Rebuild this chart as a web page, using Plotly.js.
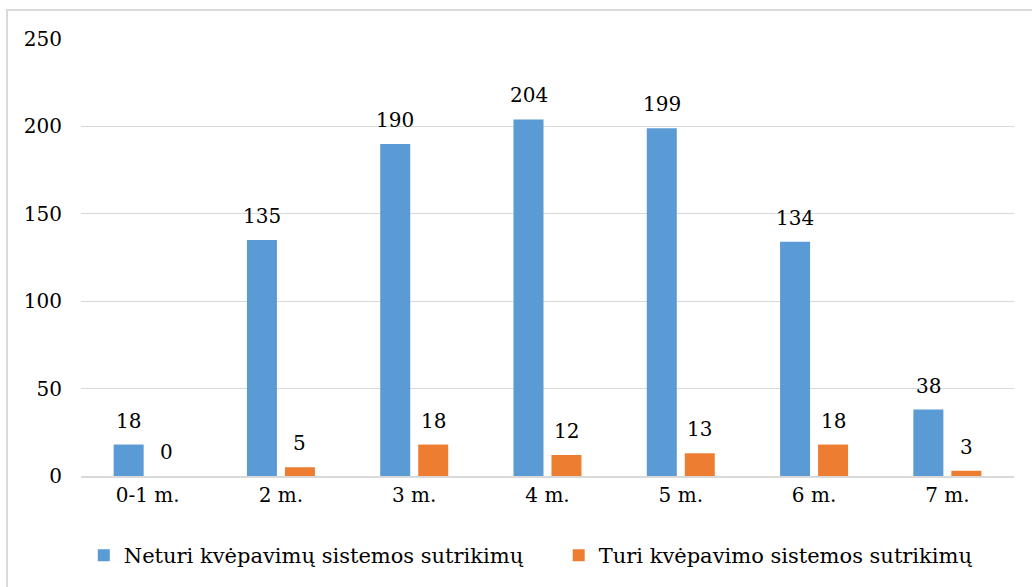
<!DOCTYPE html>
<html>
<head>
<meta charset="utf-8">
<script src="https://cdn.plot.ly/plotly-3.0.1.min.js"></script>
<style>
html,body{margin:0;padding:0;background:#fff;}
#wrap{position:relative;width:1032px;height:587px;overflow:hidden;}
#chart{position:absolute;left:0;top:0;width:1032px;height:587px;}
#frame{position:absolute;left:6px;top:9px;width:1100px;height:700px;border-top:2px solid #d9d9d9;border-left:2px solid #d9d9d9;pointer-events:none;}
</style>
</head>
<body>
<div id="wrap"><div id="chart"></div><div id="frame"></div></div>
<script>
const categories = ["0-1 m.", "2 m.", "3 m.", "4 m.", "5 m.", "6 m.", "7 m."];
const seriesNames = ["Neturi kvėpavimų sistemos sutrikimų", "Turi kvėpavimo sistemos sutrikimų"];
const neturi = [18, 135, 190, 204, 199, 134, 38];
const turi = [0, 5, 18, 12, 13, 18, 3];
const yTicks = [0, 50, 100, 150, 200, 250];

const font = {family: "DejaVu Serif", size: 20, color: "#000"};
const legendFont = {family: "DejaVu Serif", size: 21, color: "#000"};
const colors = ["#5b9bd5", "#ed7d31"];
const legendIds = ["legend", "legend2"];

const traces = [neturi, turi].map((vals, i) => ({
  type: "bar",
  name: seriesNames[i],
  x: categories,
  y: vals,
  marker: {color: colors[i]},
  legend: legendIds[i],
  hoverinfo: "skip"
}));

const annotations = [];
[neturi, turi].forEach((vals, i) => {
  vals.forEach((v, j) => {
    annotations.push({
      x: categories[j], y: v, xref: "x", yref: "y",
      text: String(v), showarrow: false,
      xshift: i === 0 ? -19 : 19, yshift: 10,
      yanchor: "bottom", font: font
    });
  });
});

const legendBase = {
  orientation: "h", xanchor: "left", y: -0.182, yanchor: "middle",
  font: legendFont, bgcolor: "rgba(0,0,0,0)",
  itemclick: false, itemdoubleclick: false
};

const layout = {
  width: 1032, height: 587,
  margin: {l: 81, r: 18, t: 39, b: 111, autoexpand: false},
  paper_bgcolor: "#fff", plot_bgcolor: "#fff",
  font: font,
  barmode: "group",
  bargap: 0.43,
  bargroupgap: 0.21,
  showlegend: true,
  legend: Object.assign({}, legendBase, {x: 0.003}),
  legend2: Object.assign({}, legendBase, {x: 0.512}),
  xaxis: {
    type: "category", showgrid: false, zeroline: false,
    showline: true, linecolor: "#d9d9d9", linewidth: 1.5,
    ticks: "", ticklabelstandoff: 0, tickfont: font, fixedrange: true
  },
  yaxis: {
    range: [0, 250], tickvals: yTicks, ticktext: yTicks.map(String),
    showgrid: true, gridcolor: "#d9d9d9", gridwidth: 1.3,
    zeroline: false, showline: false, ticks: "",
    ticklabelstandoff: 18, tickfont: font, fixedrange: true
  },
  annotations: annotations
};

Plotly.newPlot("chart", traces, layout, {displayModeBar: false, staticPlot: true});
</script>
</body>
</html>
